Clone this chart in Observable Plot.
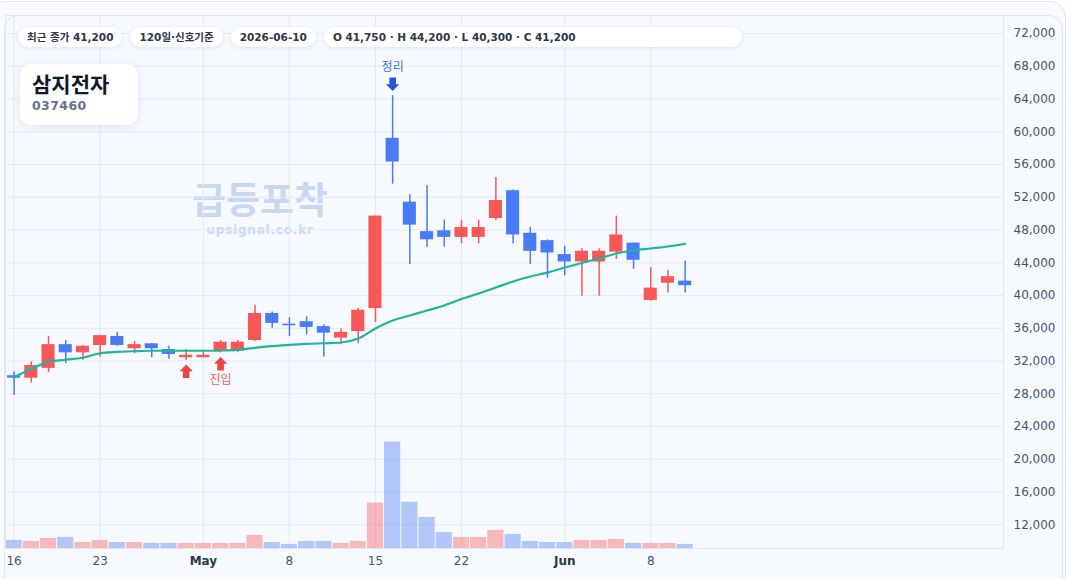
<!DOCTYPE html>
<html>
<head>
<meta charset="utf-8">
<script src="https://cdn.jsdelivr.net/npm/d3@7"></script>
<script src="https://cdn.jsdelivr.net/npm/@observablehq/plot@0.6"></script>
<style>
  html, body { margin: 0; padding: 0; background: #ffffff; }
  body { width: 1072px; height: 579px; position: relative; overflow: hidden;
         font-family: "DejaVu Sans", "Noto Sans CJK KR", sans-serif; }
  .outer { position: absolute; left: -12px; top: 1px; width: 1078px; height: 620px;
           border: 1px solid #dfe5ee; border-radius: 16px; background: #f8fafd; box-sizing: border-box; }
  .inner { position: absolute; left: 4px; top: 15px; width: 1059px; height: 620px;
           border: 1px solid #e2e7ef; border-radius: 14px; background: #f6f9fe; box-sizing: border-box; }
  #chart { position: absolute; left: 0; top: 0; }
  .badges { position: absolute; left: 18px; top: 27px; display: flex; gap: 8px; }
  .badge { height: 20px; line-height: 20px; padding: 0 9px; border-radius: 10px; background: #ffffff;
           box-shadow: 0 1px 4px rgba(30,50,90,0.10); font-size: 10.5px; font-weight: bold; color: #2d3748;
           white-space: nowrap; box-sizing: border-box; }
  .badge.wide { width: 418px; }
  .title { position: absolute; left: 20px; top: 64px; width: 118px; height: 61px; border-radius: 11px;
           background: #ffffff; box-shadow: 0 2px 10px rgba(30,50,90,0.10); box-sizing: border-box; padding: 0 12px; }
  .title .name { position: absolute; left: 12px; top: 71px; }
  .wm { position: absolute; transform: translate(-50%, -50%); white-space: nowrap; font-weight: bold; }
</style>
</head>
<body>
<div class="outer"></div>
<div class="inner"></div>
<div id="wm1" class="wm" style="left:260px; top:198px; font-size:37px; color:#c9d7f6;">급등포착</div>
<div id="wm2" class="wm" style="left:260px; top:230px; font-size:12px; letter-spacing:0.8px; color:#cbd8f4;">upsignal.co.kr</div>
<div id="chart"></div>
<div class="badges" id="badges"></div>
<div class="title">
  <div style="position:absolute; left:12px; top:7px; font-size:21px; font-weight:bold; color:#111827; line-height:28px;">삼지전자</div>
  <div style="position:absolute; left:12px; top:34px; font-size:12.5px; font-weight:bold; color:#64748b; letter-spacing:0.4px; line-height:16px;">037460</div>
</div>
<script>
// ---------- data ----------
const dates = ["2026-04-16","2026-04-17","2026-04-20","2026-04-21","2026-04-22","2026-04-23","2026-04-24",
  "2026-04-27","2026-04-28","2026-04-29","2026-04-30","2026-05-01","2026-05-04","2026-05-05","2026-05-06",
  "2026-05-07","2026-05-08","2026-05-11","2026-05-12","2026-05-13","2026-05-14","2026-05-15","2026-05-18",
  "2026-05-19","2026-05-20","2026-05-21","2026-05-22","2026-05-25","2026-05-26","2026-05-27","2026-05-28",
  "2026-05-29","2026-06-01","2026-06-02","2026-06-03","2026-06-04","2026-06-05","2026-06-08","2026-06-09","2026-06-10"];
const open  = [30200,29900,31100,34000,33000,33900,35000,33500,34100,33400,32400,32400,33200,33200,34500,37800,36500,36800,36200,34800,
               35600,38400,59200,51400,47800,47900,47100,47100,49400,52800,47600,46700,45000,44100,44100,45300,46400,39400,41500,41750];
const high  = [30700,31900,35000,34500,33850,35100,35500,34400,34100,33800,33400,33300,34500,34500,38800,38000,37300,37400,36400,35900,
               38400,49700,64400,52300,53400,49200,49200,49200,54400,52900,48300,46800,46000,45700,45700,49700,46400,43400,43100,44200];
const low   = [27800,29300,30600,31700,32100,32500,33800,32900,32400,32200,32100,32400,33000,33000,34400,36000,35000,35200,32500,34000,
               34100,36700,53600,43800,45900,45900,46300,46300,49200,46300,43800,42100,42400,39900,39900,44400,43200,39300,40300,40300];
const close = [29900,31450,34000,33000,33800,35100,33900,34000,33500,32800,32700,32700,34300,34300,37800,36600,36300,36100,35400,35500,
               38200,49700,56300,48600,46800,47100,48300,48300,51600,47400,45400,45200,44100,45400,45400,47400,44300,40900,42300,41200];
const volume = [420,365,520,575,310,420,310,310,260,260,260,260,260,260,680,310,210,365,365,260,
                365,2350,5520,2400,1610,830,575,575,940,730,365,310,310,420,420,470,260,260,260,210];
const ma = [30000,31050,31900,32150,32400,32950,33120,33200,33250,33250,33250,33250,33280,33370,33610,33810,33980,34100,34170,34260,
            34750,35970,36950,37560,38170,38780,39570,40240,40980,41710,42320,42810,43420,43970,44520,45130,45500,45740,45990,46320];
const tickDates  = ["2026-04-16","2026-04-23","2026-05-01","2026-05-08","2026-05-15","2026-05-22","2026-06-01","2026-06-08"];
const tickLabels = ["16","23","May","8","15","22","Jun","8"];
const boldTicks  = ["May","Jun"];
const yTicks = [12000,16000,20000,24000,28000,32000,36000,40000,44000,48000,52000,56000,60000,64000,68000,72000];
const signalDates  = ["2026-04-30","2026-05-04","2026-05-18"];
const signalTypes  = ["entry","entry","exit"];
const signalLabels = ["","진입","정리"];
const badgeTexts = ["최근 종가 41,200","120일·신호기준","2026-06-10","O 41,750 · H 44,200 · L 40,300 · C 41,200"];

// ---------- build ----------
const bEl = document.getElementById("badges");
badgeTexts.forEach((t, k) => {
  const d = document.createElement("div");
  d.className = "badge" + (k === badgeTexts.length - 1 ? " wide" : "");
  d.textContent = t;
  bEl.appendChild(d);
});

const RED = "#f85757", BLUE = "#4a7bf7", TEAL = "#1db59e";
const candles = dates.map((d, i) => ({i, date: d, o: open[i], h: high[i], l: low[i], c: close[i], v: volume[i], ma: ma[i],
  up: close[i] >= open[i]}));
const yLo = 9100, yHi = 74200;
const vMax = d3.max(volume);
const volTop = v => yLo + v / vMax * 0.2 * (yHi - yLo);

const ticks = tickDates.map((d, k) => ({i: dates.indexOf(d), label: tickLabels[k]}));
const labelOf = new Map(ticks.map(t => [t.i, t.label]));
const normalTicks = ticks.filter(t => !boldTicks.includes(t.label)).map(t => t.i);
const strongTicks = ticks.filter(t => boldTicks.includes(t.label)).map(t => t.i);

const signals = signalDates.map((d, k) => {
  const i = dates.indexOf(d);
  return {i, type: signalTypes[k], label: signalLabels[k], price: signalTypes[k] === "entry" ? low[i] : high[i]};
});
const entries = signals.filter(s => s.type === "entry");
const exits = signals.filter(s => s.type === "exit");

const arrowUp = {draw(ctx) {
  ctx.moveTo(0, -6.7); ctx.lineTo(6.6, 0); ctx.lineTo(3.3, 0); ctx.lineTo(3.3, 6.7);
  ctx.lineTo(-3.3, 6.7); ctx.lineTo(-3.3, 0); ctx.lineTo(-6.6, 0); ctx.closePath();
}};
const arrowDown = {draw(ctx) {
  ctx.moveTo(0, 6.7); ctx.lineTo(6.6, 0); ctx.lineTo(3.3, 0); ctx.lineTo(3.3, -6.7);
  ctx.lineTo(-3.3, -6.7); ctx.lineTo(-3.3, 0); ctx.lineTo(-6.6, 0); ctx.closePath();
}};

const chart = Plot.plot({
  width: 1072, height: 579,
  marginLeft: 5, marginRight: 69, marginTop: 15, marginBottom: 31,
  style: {background: "transparent", fontFamily: "DejaVu Sans, Noto Sans CJK KR, sans-serif", fontSize: "12px", color: "#4a5568"},
  x: {type: "linear", domain: [-0.5, 57.5]},
  y: {domain: [yLo, yHi]},
  marks: [
    Plot.gridY(yTicks, {stroke: "#e5e9f0", strokeOpacity: 1}),
    Plot.gridX(ticks.map(t => t.i), {stroke: "#e5e9f0", strokeOpacity: 1}),
    Plot.rect(candles, {x1: d => d.i - 0.47, x2: d => d.i + 0.47, y1: yLo, y2: d => volTop(d.v),
      fill: d => d.up ? RED : BLUE, fillOpacity: 0.4}),
    Plot.frame({stroke: "#e2e7ef"}),
    Plot.ruleX(candles, {x: "i", y1: "l", y2: "h", stroke: d => d.up ? RED : BLUE, strokeWidth: 1.5}),
    Plot.rect(candles, {x1: d => d.i - 0.38, x2: d => d.i + 0.38, y1: "o", y2: "c", fill: d => d.up ? RED : BLUE}),
    Plot.line(candles, {x: "i", y: "ma", stroke: TEAL, strokeWidth: 2.2, curve: "monotone-x"}),
    Plot.dot(entries, {x: "i", y: "price", dy: 11, symbol: arrowUp, r: 7, fill: "#ef4444", stroke: "none"}),
    Plot.text(entries.filter(s => s.label), {x: "i", y: "price", text: "label", dy: 27, fill: "#f06464", fontSize: 12}),
    Plot.dot(exits, {x: "i", y: "price", dy: -11.5, symbol: arrowDown, r: 7, fill: "#2456d8", stroke: "none"}),
    Plot.text(exits, {x: "i", y: "price", text: "label", dy: -29, fill: "#3f6fe6", fontSize: 12}),
    Plot.axisY(yTicks, {anchor: "right", tickSize: 0, tickPadding: 10, tickFormat: d3.format(","), label: null, fill: "#4a5568"}),
    Plot.axisX(normalTicks, {anchor: "bottom", tickSize: 0, tickPadding: 8, tickFormat: i => labelOf.get(i), label: null, fill: "#4a5568"}),
    Plot.axisX(strongTicks, {anchor: "bottom", tickSize: 0, tickPadding: 8, tickFormat: i => labelOf.get(i), label: null,
      fill: "#2d3748", fontWeight: "bold"})
  ]
});
document.getElementById("chart").appendChild(chart);
</script>
</body>
</html>
